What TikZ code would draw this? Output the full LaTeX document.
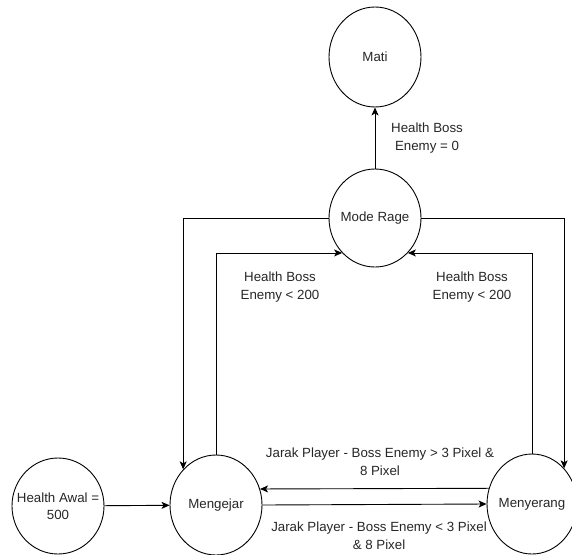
\documentclass[tikz,border=0pt]{standalone}
\usepackage{fontspec}
\setmainfont{Liberation Sans}
\usetikzlibrary{positioning, shapes.geometric, arrows.meta, calc}
\usepackage{xcolor}
\definecolor{fsmline}{HTML}{000000}
\definecolor{fsmtext}{HTML}{262626}

\begin{document}
\begin{tikzpicture}[x=1pt, y=-1pt,
          state/.style={draw=fsmline, ellipse, line width=0.9pt, minimum width=92pt, minimum height=100pt, inner xsep=-10pt, inner ysep=0pt, text=fsmtext, font=\fontsize{13.3}{17.5}\selectfont, align=center},
          lbl/.style={text=fsmtext, font=\fontsize{13.3}{18}\selectfont, align=center, inner sep=0pt},
          arr/.style={-{Stealth[length=8pt, width=7pt, inset=2pt]}, line width=0.9pt, draw=fsmline}]
        \useasboundingbox (0,0) rectangle (572,554);
        \node[state] (mati) at (375,57) {Mati};
        \node[state, minimum height=98pt] (rage) at (375,218) {Mode Rage};
        \node[state, minimum height=96pt] (awal) at (58,506) {Health Awal =\\500};
        \node[state] (kejar) at (216,505) {Mengejar};
        \node[state, minimum width=90pt] (serang) at (532,504) {Menyerang};
        % transisi
        \draw[arr] (rage) -- (mati);
        \draw[arr] (awal) -- (kejar);
        \draw[arr] (kejar.east) -- (serang.west);
        \draw[arr] (serang.160) -- (kejar.20);
        \draw[arr] (rage.west) -| (kejar.north west);
        \draw[arr] (rage.east) -| (serang.north east);
        \draw[arr] (kejar.north) |- (rage.south west);
        \draw[arr] (serang.north) |- (rage.south east);
        % label
        \node[lbl] (l0) at (427,138) {Health Boss\\Enemy = 0};
        \node[lbl] (l1) at (280,287) {Health Boss\\Enemy < 200};
        \node[lbl] (l2) at (472,287) {Health Boss\\Enemy < 200};
        \node[lbl] (l3) at (380,462) {Jarak Player - Boss Enemy > 3 Pixel \&\\8 Pixel};
        \node[lbl] (l4) at (379,536) {Jarak Player - Boss Enemy < 3 Pixel\\\& 8 Pixel};
      \end{tikzpicture}
\end{document}
